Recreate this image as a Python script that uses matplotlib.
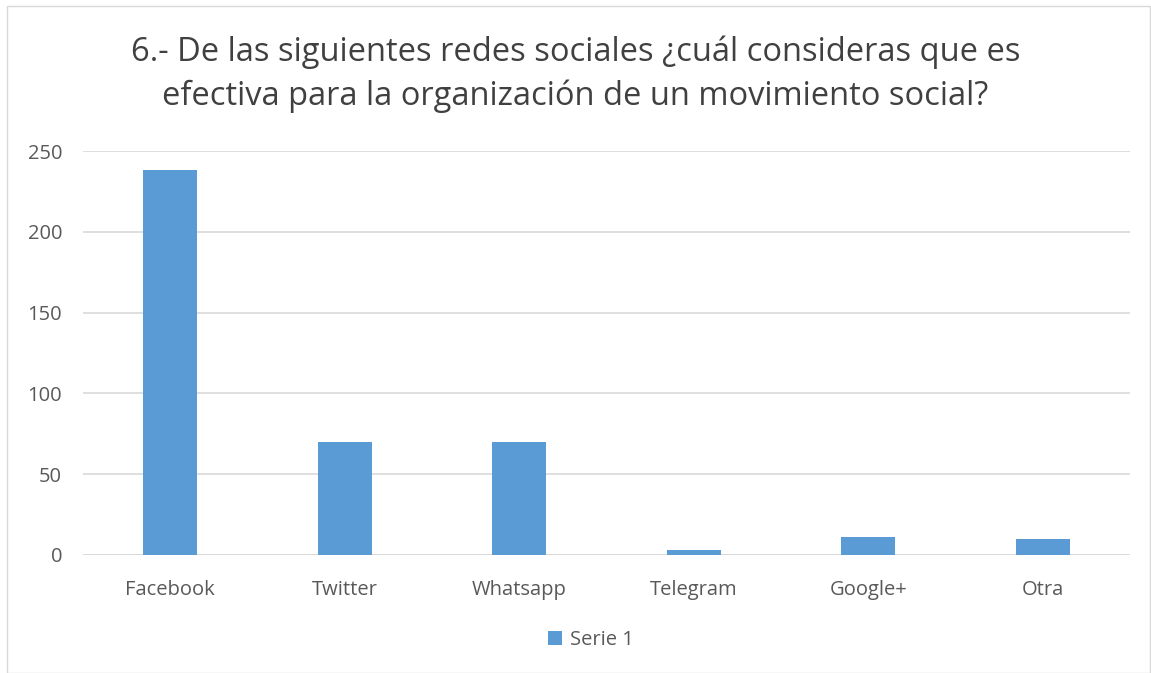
import numpy as np
import matplotlib.pyplot as plt
from matplotlib.patches import Rectangle

categorias = ["Facebook", "Twitter", "Whatsapp", "Telegram", "Google+", "Otra"]
serie1 = [238, 70, 70, 3, 11, 10]
yticks = [0, 50, 100, 150, 200, 250]
titulo = "6.- De las siguientes redes sociales ¿cuál consideras que es\nefectiva para la organización de un movimiento social?"

plt.rcParams['font.family'] = ['Open Sans', 'DejaVu Sans']

fig = plt.figure(figsize=(11.51, 6.73), dpi=100)
ax = fig.add_axes([83/1151, 118/673, (1130-83)/1151, (555-151)/673])

x = np.arange(len(categorias))
ax.bar(x, serie1, width=0.31, color="#5b9bd5", label="Serie 1", zorder=3)

ax.set_xlim(-0.5, len(categorias) - 0.5)
ax.set_ylim(0, 250)
ax.set_yticks(yticks)
ax.set_xticks(x)
ax.set_xticklabels(categorias)
ax.grid(axis="y", color="#d9d9d9", linewidth=1.2, zorder=0)
for s in ax.spines.values():
    s.set_visible(False)
ax.axhline(0, color="#d9d9d9", linewidth=1.2, zorder=2)
ax.tick_params(length=0, labelsize=14.5, colors="#595959")
ax.tick_params(axis="x", pad=18)
ax.tick_params(axis="y", pad=15)

fig.text(0.5, 0.89, titulo, ha="center", va="center", fontsize=23.5,
         color="#404040", linespacing=1.4)

ax.legend(loc="center", bbox_to_anchor=(0.485, -0.21), frameon=False,
          fontsize=14.5, handlelength=0.7, handleheight=0.7, handletextpad=0.4,
          labelcolor="#595959")

fig.patches.append(Rectangle((7/1151, 0), 1143/1151, 667/673, transform=fig.transFigure,
                             fill=False, edgecolor="#d9d9d9", linewidth=1))

fig.savefig("out.png", dpi=100, facecolor="white")
